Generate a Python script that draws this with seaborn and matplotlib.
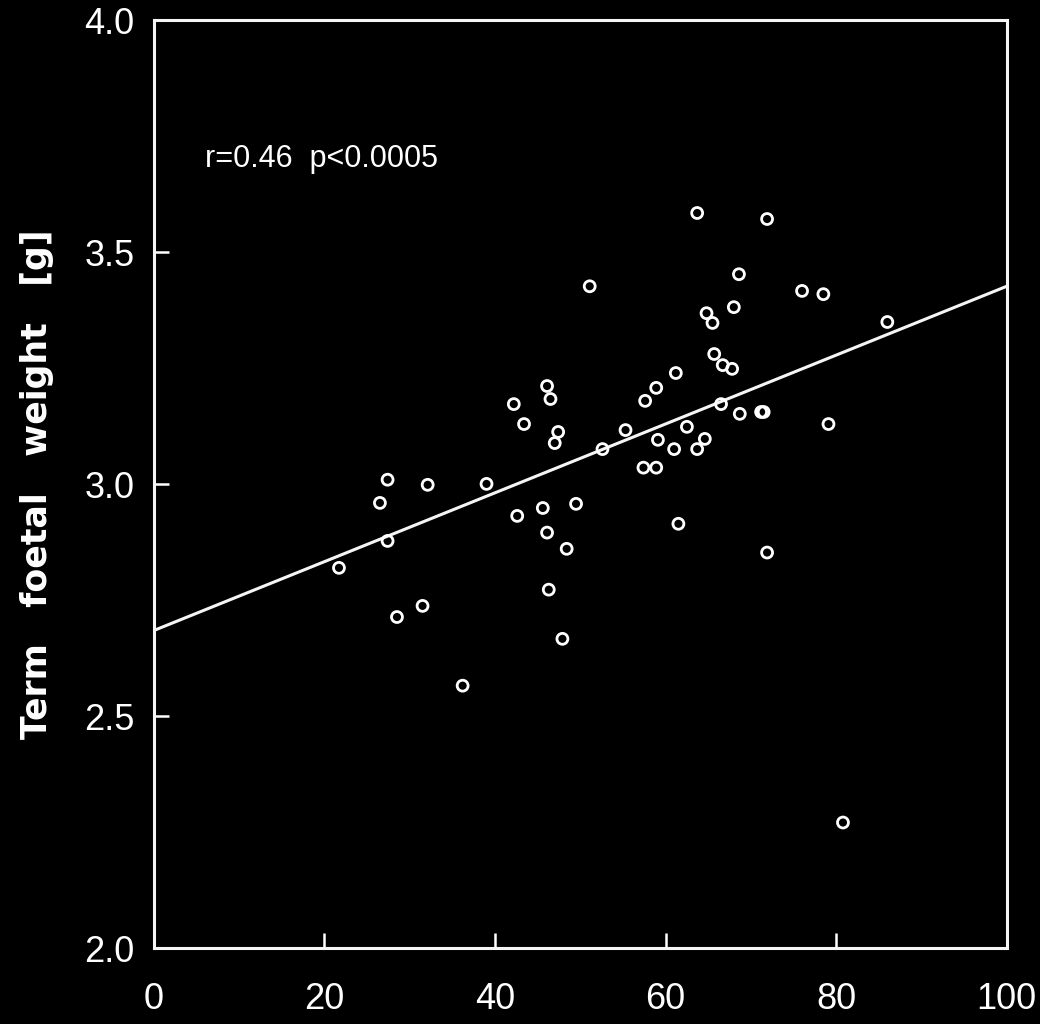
import matplotlib
matplotlib.use('Agg')
import matplotlib.pyplot as plt
import numpy as np
import pandas as pd
import seaborn as sb

# values
placental_x = [21.7, 26.5, 27.4, 27.4, 28.5, 31.5, 32.1, 36.2, 39.0, 42.2,
               42.6, 43.4, 45.6, 46.1, 46.5, 46.1, 46.3, 47.4, 47.0, 47.9,
               48.4, 49.5, 51.1, 52.6, 55.3, 57.6, 57.4, 58.9, 58.9, 59.1,
               61.0, 61.2, 61.5, 62.5, 63.7, 63.7, 64.6, 64.8, 65.5, 65.7,
               66.7, 67.8, 66.5, 68.7, 71.2, 71.5, 71.9, 68.6, 68.0, 76.0,
               78.5, 86.0, 79.1, 71.9, 80.8]
foetal_weight = [2.820, 2.960, 3.010, 2.878, 2.714, 2.738, 2.999, 2.566, 3.001, 3.173,
                 2.932, 3.130, 2.949, 3.212, 3.184, 2.896, 2.773, 3.113, 3.089, 2.667,
                 2.861, 2.958, 3.427, 3.076, 3.117, 3.180, 3.036, 3.036, 3.208, 3.096,
                 3.076, 3.240, 2.915, 3.124, 3.585, 3.076, 3.098, 3.369, 3.348, 3.281,
                 3.257, 3.249, 3.173, 3.152, 3.156, 3.156, 3.572, 3.453, 3.382, 3.417,
                 3.410, 3.350, 3.130, 2.853, 2.271]

# regression line as drawn (ends at the axis limits)
line_x = [0, 100]
line_y = [2.685, 3.427]

x_ticks = [0, 20, 40, 60, 80, 100]
y_ticks = [2.0, 2.5, 3.0, 3.5, 4.0]
y_tick_labels = ['2.0', '2.5', '3.0', '3.5', '4.0']

df = pd.DataFrame({'x': placental_x, 'weight': foetal_weight})

sb.set_style('dark')
plt.rcParams['font.family'] = ['Liberation Sans', 'DejaVu Sans']

fig = plt.figure(figsize=(10.4, 10.24), dpi=100, facecolor='black')
ax = fig.add_axes([0.148, 0.074, 0.820, 0.906])
ax.set_facecolor('black')

sb.lineplot(x=line_x, y=line_y, color='#f4f6f4', linewidth=2.2, ax=ax)
sb.scatterplot(data=df, x='x', y='weight', s=62, marker='o',
               facecolors='none', edgecolor='white', linewidth=2.0, ax=ax, zorder=3)

ax.set_xlim(0, 100)
ax.set_ylim(2.0, 4.0)
ax.set_xticks(x_ticks)
ax.set_xticklabels([str(t) for t in x_ticks])
ax.set_yticks(y_ticks)
ax.set_yticklabels(y_tick_labels)
ax.grid(False)

for side in ['left', 'right', 'top', 'bottom']:
    ax.spines[side].set_visible(True)
    ax.spines[side].set_color('#f4f6f4')
    ax.spines[side].set_linewidth(2.2)

ax.tick_params(axis='both', direction='in', length=11, width=1.8, color='white',
               labelcolor='white', labelsize=26, left=True, bottom=True)
ax.tick_params(axis='x', pad=24)
ax.tick_params(axis='y', pad=14)

ax.set_xlabel('')
ax.set_ylabel('Term   foetal   weight   [g]', color='white', fontsize=25,
              fontweight='bold', family=['DejaVu Sans'], labelpad=22)

ax.text(0.06, 0.851, 'r=0.46  p<0.0005', transform=ax.transAxes, color='white',
        fontsize=22, va='center', ha='left')

fig.savefig('out.png', dpi=100, facecolor='black')
